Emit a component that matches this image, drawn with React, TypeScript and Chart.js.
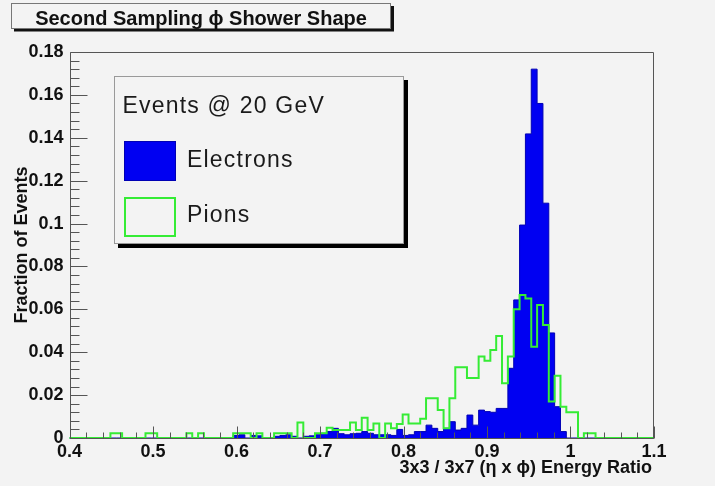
import React, { useEffect, useRef } from "react";
import { Chart, registerables } from "chart.js";

Chart.register(...registerables);

// ---- data (fraction of events per bin, 100 bins of 0.007 from 0.4 to 1.1) ----
const X_MIN = 0.4;
const X_MAX = 1.1;
const BIN_WIDTH = 0.007;
const Y_MAX = 0.18;

const titleText = "Second Sampling \u03d5 Shower Shape";
const xAxisTitle = "3x3 / 3x7 (\u03b7 x \u03d5) Energy Ratio";
const yAxisTitle = "Fraction of Events";
const legendHeader = "Events @ 20 GeV";
const seriesLabels = ["Electrons", "Pions"];

const electronFractions = [
  0, 0, 0, 0, 0, 0, 0, 0, 0, 0,
  0, 0, 0, 0, 0, 0, 0, 0, 0, 0,
  0, 0, 0, 0, 0, 0, 0, 0, 0.0012, 0.0015,
  0, 0.0012, 0.001, 0, 0, 0.0008, 0.0012, 0.0015, 0.0008, 0,
  0.0008, 0.001, 0.0015, 0.0022, 0.003, 0.0045, 0.002, 0.0015, 0.002, 0.0022,
  0.003, 0.0022, 0.0015, 0.0015, 0.0015, 0.0012, 0.004, 0.0012, 0.0015, 0.003,
  0.003, 0.006, 0.0045, 0.003, 0.0045, 0.0076, 0.0037, 0.0045, 0.0107, 0.006,
  0.013, 0.0123, 0.012, 0.0138, 0.0138, 0.0325, 0.0644, 0.0993, 0.1418, 0.172,
  0.156, 0.1095, 0.049, 0.0146, 0.003, 0, 0, 0, 0, 0,
  0, 0, 0, 0, 0, 0, 0, 0, 0, 0,
];

const pionFractions = [
  0, 0, 0, 0, 0, 0, 0, 0.0022, 0.0022, 0,
  0, 0, 0, 0.0022, 0.0022, 0, 0, 0, 0, 0,
  0.0022, 0, 0.0022, 0, 0, 0, 0, 0, 0.0022, 0.0022,
  0.0022, 0, 0.0022, 0, 0, 0.0022, 0.0022, 0.0022, 0, 0.0072,
  0, 0, 0.0022, 0.0022, 0.0048, 0.0037, 0.0037, 0.0037, 0.0072, 0.0037,
  0.0095, 0.0037, 0.0068, 0, 0.0068, 0.0045, 0.0065, 0.011, 0.0068, 0.0068,
  0.009, 0.0185, 0.0185, 0.013, 0.0045, 0.0185, 0.033, 0.033, 0.028, 0.028,
  0.038, 0.036, 0.041, 0.0476, 0.0255, 0.038, 0.06, 0.0667, 0.065, 0.0426,
  0.062, 0.0527, 0.017, 0.029, 0.0146, 0.012, 0.012, 0, 0.0022, 0.0022,
  0, 0, 0, 0, 0, 0, 0, 0, 0, 0,
];

const FONT = '"Liberation Sans", Arial, Helvetica, sans-serif';
const BG = "#f3f3f3";
const BLUE = "#0000f2";
const BLUE_EDGE = "#0000b4";
const GREEN = "#35ec35";

function toSteps(values: number[]) {
  const pts = values.map((v, i) => ({ x: X_MIN + i * BIN_WIDTH, y: v }));
  pts.push({ x: X_MAX, y: values[values.length - 1] });
  return pts;
}

const rootStylePlugin = {
  id: "rootStyle",
  beforeDraw(chart: any) {
    const ctx = chart.ctx;
    ctx.save();
    ctx.fillStyle = BG;
    ctx.fillRect(0, 0, chart.width, chart.height);
    ctx.restore();
  },
  afterDatasetsDraw(chart: any) {
    const ctx = chart.ctx;
    const { left, right, top, bottom } = chart.chartArea;
    const xs = chart.scales.x;
    const ys = chart.scales.y;
    ctx.save();
    ctx.strokeStyle = "#555";
    ctx.lineWidth = 1;
    const L = Math.round(left) + 0.5;
    const R = Math.round(right) - 0.5;
    const T = Math.round(top) + 0.5;
    const B = Math.round(bottom) + 0.5;
    ctx.beginPath();
    ctx.moveTo(L, T);
    ctx.lineTo(R, T);
    ctx.lineTo(R, B);
    ctx.lineTo(L, B);
    ctx.closePath();
    ctx.stroke();
    // x ticks (inside)
    ctx.beginPath();
    for (let i = 0; i <= 35; i++) {
      const v = X_MIN + i * 0.02;
      const px = Math.round(xs.getPixelForValue(v)) + 0.5;
      const len = i % 5 === 0 ? 12 : 6;
      ctx.moveTo(px, B);
      ctx.lineTo(px, B - len);
    }
    // y ticks (inside)
    for (let i = 0; i <= 45; i++) {
      const v = i * 0.004;
      const py = Math.round(ys.getPixelForValue(v)) + 0.5;
      const len = i % 5 === 0 ? 17 : 9;
      ctx.moveTo(L, py);
      ctx.lineTo(L + len, py);
    }
    ctx.stroke();
    ctx.restore();
  },
  afterDraw(chart: any) {
    const ctx = chart.ctx;
    const ds = chart.data.datasets;
    ctx.save();
    // title pave
    ctx.fillStyle = "#111";
    ctx.fillRect(391, 6, 3, 25);
    ctx.fillRect(14, 28.5, 380, 3);
    ctx.fillStyle = BG;
    ctx.fillRect(11.5, 3.5, 379, 25);
    ctx.strokeStyle = "#777";
    ctx.lineWidth = 1;
    ctx.strokeRect(11.5, 3.5, 379, 25);
    ctx.fillStyle = "#111";
    ctx.font = `bold 20px ${FONT}`;
    ctx.textAlign = "center";
    ctx.textBaseline = "alphabetic";
    ctx.fillText(titleText, 201, 24.5);

    // axis titles
    ctx.font = `bold 18px ${FONT}`;
    ctx.textAlign = "right";
    ctx.fillText(xAxisTitle, 652, 473);
    ctx.save();
    ctx.translate(22, 245);
    ctx.rotate(-Math.PI / 2);
    ctx.textAlign = "center";
    ctx.textBaseline = "middle";
    ctx.fillText(yAxisTitle, 0, 0);
    ctx.restore();

    // legend
    ctx.fillStyle = "#000";
    ctx.fillRect(404, 80, 4, 168);
    ctx.fillRect(118, 244, 290, 4);
    ctx.fillStyle = BG;
    ctx.fillRect(114, 76, 290, 168);
    ctx.strokeStyle = "#999";
    ctx.strokeRect(114.5, 76.5, 289, 167);
    ctx.fillStyle = "#1a1a1a";
    ctx.font = `23px ${FONT}`;
    (ctx as any).letterSpacing = "1.2px";
    ctx.textAlign = "left";
    ctx.textBaseline = "alphabetic";
    ctx.fillText(legendHeader, 122.5, 113);
    const elec = ds[1];
    const pion = ds[0];
    ctx.fillStyle = elec.backgroundColor;
    ctx.fillRect(124, 141, 52, 40);
    ctx.strokeStyle = elec.borderColor;
    ctx.lineWidth = 1;
    ctx.strokeRect(124.5, 141.5, 51, 39);
    ctx.fillStyle = "#1a1a1a";
    ctx.fillText(elec.label, 187, 167);
    ctx.strokeStyle = pion.borderColor;
    ctx.lineWidth = 2;
    ctx.strokeRect(125, 198, 50, 38);
    ctx.fillText(pion.label, 187, 222);
    (ctx as any).letterSpacing = "0px";
    ctx.restore();
  },
};

export default function App() {
  const canvasRef = useRef<HTMLCanvasElement | null>(null);

  useEffect(() => {
    const canvas = canvasRef.current;
    if (!canvas) return;
    const chart = new Chart(canvas, {
      type: "line",
      data: {
        datasets: [
          {
            label: seriesLabels[1],
            data: toSteps(pionFractions),
            stepped: "before",
            borderColor: GREEN,
            borderWidth: 2,
            backgroundColor: "transparent",
            fill: false,
            pointRadius: 0,
            tension: 0,
            order: 0,
            clip: false,
          } as any,
          {
            label: seriesLabels[0],
            data: toSteps(electronFractions),
            stepped: "before",
            borderColor: BLUE_EDGE,
            borderWidth: 1,
            backgroundColor: BLUE,
            fill: "origin",
            pointRadius: 0,
            tension: 0,
            order: 1,
            clip: false,
          } as any,
        ],
      },
      options: {
        responsive: false,
        animation: false,
        events: [],
        layout: { padding: { left: 0, right: 61, top: 52, bottom: 0 } },
        plugins: {
          legend: { display: false },
          tooltip: { enabled: false },
          title: { display: false },
        },
        scales: {
          x: {
            type: "linear",
            min: X_MIN,
            max: X_MAX,
            grid: { display: false, drawTicks: false },
            border: { display: false },
            ticks: {
              stepSize: 0.1,
              autoSkip: false,
              maxRotation: 0,
              padding: 3,
              color: "#111",
              font: { family: FONT, size: 18, weight: "bold" },
              callback: (v: any) => parseFloat(Number(v).toFixed(1)).toString(),
            },
            afterFit: (s: any) => {
              s.height = 48;
            },
          },
          y: {
            type: "linear",
            min: 0,
            max: Y_MAX,
            grid: { display: false, drawTicks: false },
            border: { display: false },
            ticks: {
              stepSize: 0.02,
              autoSkip: false,
              padding: 6,
              color: "#111",
              font: { family: FONT, size: 18, weight: "bold" },
              callback: (v: any) => parseFloat(Number(v).toFixed(2)).toString(),
            },
            afterFit: (s: any) => {
              s.width = 69.5;
            },
          },
        },
      } as any,
      plugins: [rootStylePlugin],
    });
    return () => chart.destroy();
  }, []);

  return (
    <div style={{ position: "fixed", left: 0, top: 0, width: 715, height: 486, background: BG }}>
      <canvas ref={canvasRef} width={715} height={486} style={{ display: "block", width: 715, height: 486 }} />
    </div>
  );
}
